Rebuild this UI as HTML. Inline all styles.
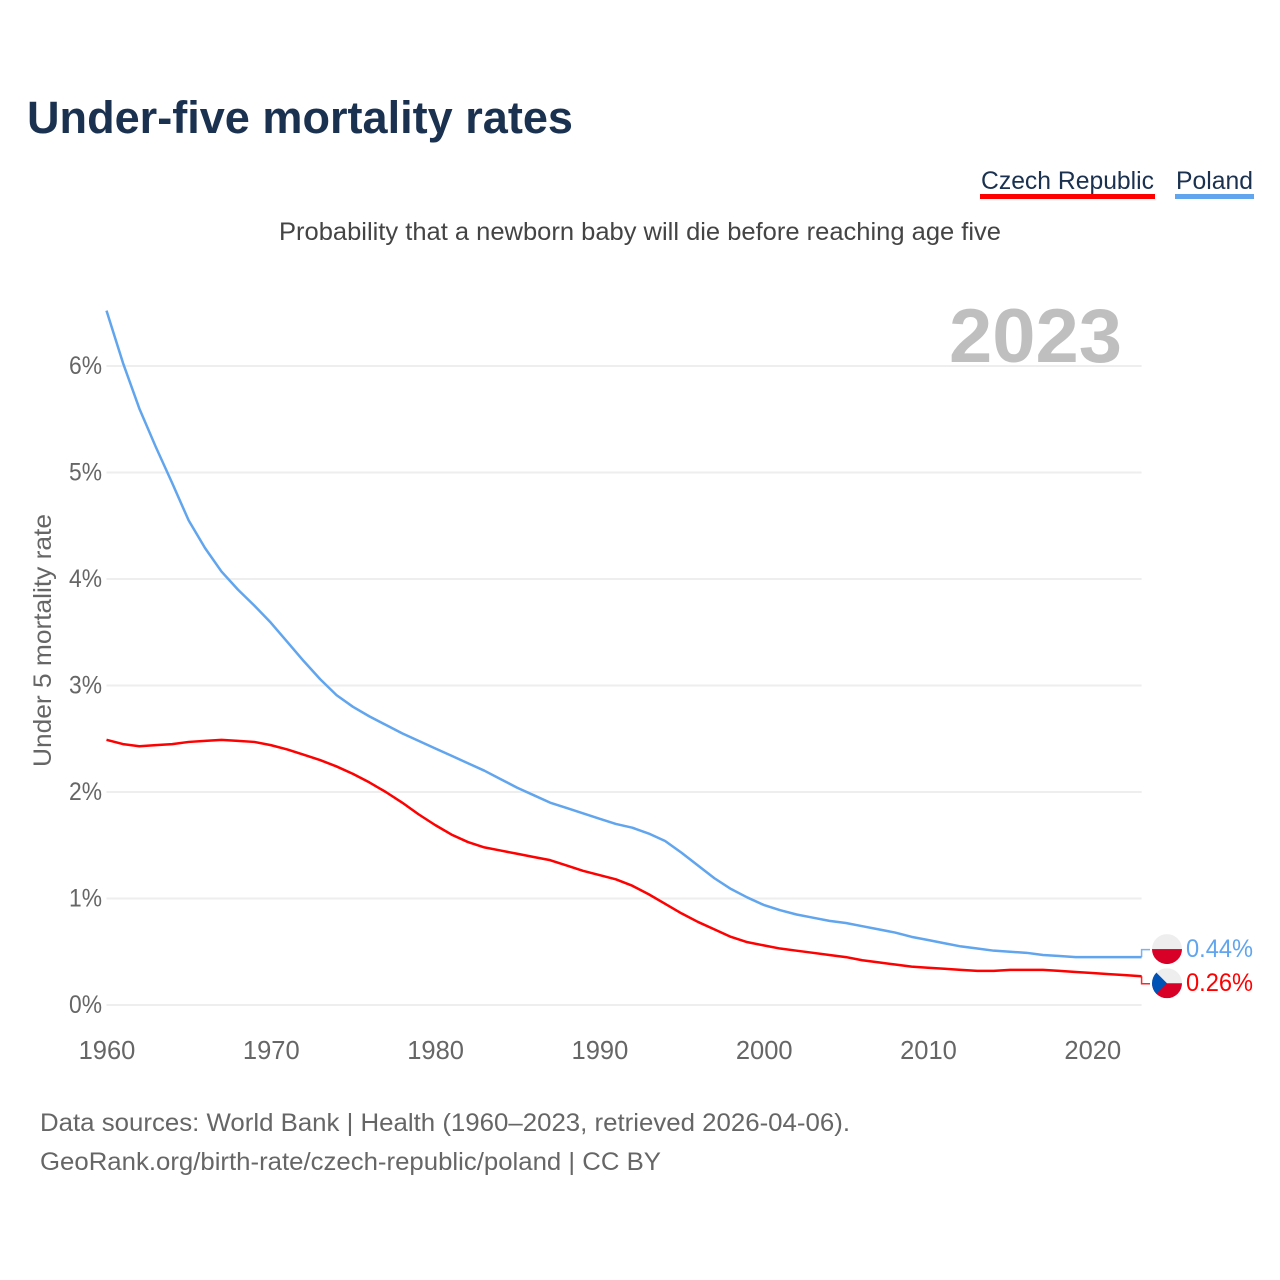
<!DOCTYPE html>
<html>
<head>
<meta charset="utf-8">
<title>Under-five mortality rates</title>
<style>
html,body{margin:0;padding:0;background:#fff;width:1280px;height:1280px;overflow:hidden}
svg{display:block;font-family:"Liberation Sans",sans-serif}
</style>
</head>
<body>
<svg id="chart" width="1280" height="1280" viewBox="0 0 1280 1280" xmlns="http://www.w3.org/2000/svg">
  <rect width="1280" height="1280" fill="#fff"/>
  <text x="27" y="133" font-size="45" font-weight="700" fill="#1a3150" textLength="546" lengthAdjust="spacingAndGlyphs">Under-five mortality rates</text>
  <g>
    <text x="981" y="189" font-size="25" fill="#1a3150" textLength="173" lengthAdjust="spacingAndGlyphs">Czech Republic</text>
    <rect x="980" y="194" width="175" height="5" fill="#ff0000"/>
  </g>
  <g>
    <text x="1176" y="189" font-size="25" fill="#1a3150" textLength="77" lengthAdjust="spacingAndGlyphs">Poland</text>
    <rect x="1175" y="194" width="79" height="5" fill="#60a5ee"/>
  </g>
  <text x="279" y="240" font-size="25" fill="#444" textLength="722" lengthAdjust="spacingAndGlyphs">Probability that a newborn baby will die before reaching age five</text>
  <text transform="translate(51,767) rotate(-90)" x="0" y="0" font-size="25" fill="#666" textLength="253" lengthAdjust="spacingAndGlyphs">Under 5 mortality rate</text>
  <g id="grid"></g>
  <text x="949" y="362" font-size="76" font-weight="700" fill="#bfbfbf" textLength="173" lengthAdjust="spacingAndGlyphs">2023</text>
  <g id="yticks"></g>
  <g id="xticks"></g>
  <g id="series"></g>
  <g id="ends"></g>
  <defs>
    <clipPath id="flag-clip-pl"><circle id="clip-pl" cx="1167" cy="949" r="15"/></clipPath>
    <clipPath id="flag-clip-cz"><circle id="clip-cz" cx="1167" cy="983" r="15"/></clipPath>
  </defs>
  <text x="40" y="1131" font-size="25" fill="#666" textLength="810" lengthAdjust="spacingAndGlyphs">Data sources: World Bank | Health (1960–2023, retrieved 2026-04-06).</text>
  <text x="40" y="1170" font-size="25" fill="#666" textLength="621" lengthAdjust="spacingAndGlyphs">GeoRank.org/birth-rate/czech-republic/poland | CC BY</text>
</svg>
<script>
const startYear = 1960;
const polandValues = [6.52,6.03,5.6,5.24,4.9,4.55,4.29,4.07,3.9,3.75,3.59,3.41,3.23,3.06,2.91,2.8,2.71,2.63,2.55,2.48,2.41,2.34,2.27,2.2,2.12,2.04,1.97,1.9,1.85,1.8,1.75,1.7,1.665,1.61,1.54,1.43,1.31,1.19,1.09,1.01,0.94,0.89,0.85,0.82,0.79,0.77,0.74,0.71,0.68,0.64,0.61,0.58,0.55,0.53,0.51,0.5,0.49,0.47,0.46,0.45,0.45,0.45,0.45,0.45];
const czechValues = [2.49,2.45,2.43,2.44,2.45,2.47,2.48,2.49,2.48,2.47,2.44,2.4,2.35,2.3,2.24,2.17,2.09,2.0,1.9,1.79,1.69,1.6,1.53,1.48,1.45,1.42,1.39,1.36,1.31,1.26,1.22,1.18,1.12,1.04,0.95,0.86,0.78,0.71,0.64,0.59,0.56,0.53,0.51,0.49,0.47,0.45,0.42,0.4,0.38,0.36,0.35,0.34,0.33,0.32,0.32,0.33,0.33,0.33,0.32,0.31,0.3,0.29,0.28,0.27];
const yTickValues = [0,1,2,3,4,5,6];
const yTickLabels = ["0%","1%","2%","3%","4%","5%","6%"];
const xTickYears = [1960,1970,1980,1990,2000,2010,2020];
const polandEndLabel = "0.44%";
const czechEndLabel = "0.26%";

const NS = "http://www.w3.org/2000/svg";
const xScale = function (year) { return 106.5 + (year - 1960) * 16.43; };
const yScale = function (v) { return 1005 - v * (1005 - 366) / 6; };
const PLOT_LEFT = xScale(1960);
const PLOT_RIGHT = xScale(2023);

function make(tag, attrs, parent, text) {
  const el = document.createElementNS(NS, tag);
  for (const k in attrs) el.setAttribute(k, attrs[k]);
  if (text !== undefined) el.textContent = text;
  parent.appendChild(el);
  return el;
}

const grid = document.getElementById("grid");
const yticks = document.getElementById("yticks");
yTickValues.forEach(function (v, i) {
  const line = make("line", {x1: PLOT_LEFT, x2: PLOT_RIGHT, y1: yScale(v), y2: yScale(v), stroke: "#eeeeee", "stroke-width": 2}, grid);
  
  
  const label = make("text", {x: 69, y: yScale(v) + 8, "font-size": 25, fill: "#666", textLength: 33, lengthAdjust: "spacingAndGlyphs"}, yticks, yTickLabels[i]);
  
  
});

const xticks = document.getElementById("xticks");
xTickYears.forEach(function (yr) {
  const label = make("text", {x: xScale(yr) + 0.5, y: 1059, "text-anchor": "middle", "font-size": 25.5, fill: "#666"}, xticks, String(yr));
  
  
});

function pathFor(values) {
  return values.map(function (v, i) {
    return (i ? "L" : "M") + xScale(startYear + i).toFixed(2) + " " + yScale(v).toFixed(2);
  }).join(" ");
}

const series = document.getElementById("series");
const czechLine = make("path", {d: pathFor(czechValues), fill: "none", stroke: "#ff0000", "stroke-width": 2.5, "stroke-linejoin": "round"}, series);


const polandLine = make("path", {d: pathFor(polandValues), fill: "none", stroke: "#60a5ee", "stroke-width": 2.5, "stroke-linejoin": "round"}, series);



const ends = document.getElementById("ends");
function addConnector(value, labelY, colour, name) {
  const y0 = yScale(value);
  const path = make("path", {d: "M" + PLOT_RIGHT + " " + y0 + " V" + labelY + " H1150", fill: "none", stroke: colour, "stroke-width": 1.5, opacity: 0.85}, ends);
  
  
}
const plEnd = polandValues[polandValues.length - 1];
const czEnd = czechValues[czechValues.length - 1];
const plY = yScale(plEnd) - 8;
const czY = yScale(czEnd) + 7;
addConnector(plEnd, plY + 0.5, "#60a5ee", "connector-poland");
addConnector(czEnd, czY + 0.5, "#ff0000", "connector-czech-republic");

document.getElementById("clip-pl").setAttribute("cy", plY);
document.getElementById("clip-cz").setAttribute("cy", czY);

const plFlag = make("g", {"clip-path": "url(#flag-clip-pl)"}, ends);


make("rect", {x: 1152, y: plY - 15, width: 30, height: 15, fill: "#eeeeee"}, plFlag);
make("rect", {x: 1152, y: plY, width: 30, height: 15, fill: "#d80027"}, plFlag);

const czFlag = make("g", {"clip-path": "url(#flag-clip-cz)"}, ends);


make("rect", {x: 1152, y: czY - 15, width: 30, height: 15, fill: "#eeeeee"}, czFlag);
make("rect", {x: 1152, y: czY, width: 30, height: 15, fill: "#d80027"}, czFlag);
make("path", {d: "M1152 " + (czY - 15) + " L1167 " + czY + " L1152 " + (czY + 15) + " Z", fill: "#0052b4"}, czFlag);

const plLabel = make("text", {x: 1186, y: plY + 8, "font-size": 25, fill: "#60a5ee", textLength: 67, lengthAdjust: "spacingAndGlyphs"}, ends, polandEndLabel);


const czLabel = make("text", {x: 1186, y: czY + 8, "font-size": 25, fill: "#ff0000", textLength: 67, lengthAdjust: "spacingAndGlyphs"}, ends, czechEndLabel);


</script>
</body>
</html>
